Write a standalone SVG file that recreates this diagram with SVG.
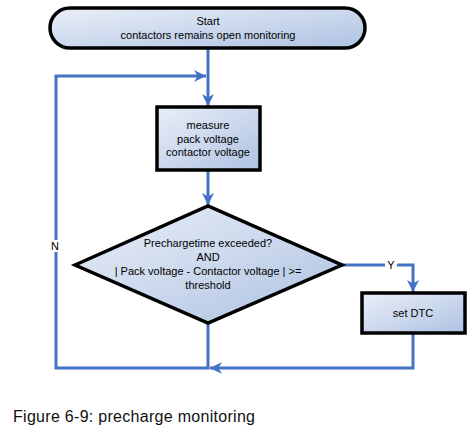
<svg xmlns="http://www.w3.org/2000/svg" width="476" height="432" viewBox="0 0 476 432">
<defs>
<linearGradient id="g" x1="0" y1="0" x2="1" y2="1">
<stop offset="0" stop-color="#eaeff8"/>
<stop offset="1" stop-color="#aec2e2"/>
</linearGradient>
<marker id="a" viewBox="0 0 10 10" refX="10" refY="5" markerWidth="4" markerHeight="4" markerUnits="strokeWidth" orient="auto">
<path d="M0,0 L10,5 L0,10 L3,5 Z" fill="#4472c4"/>
</marker>
<style>
.n{fill:url(#g);stroke:#000;stroke-width:3.5}
.t{font-family:"Liberation Sans",Arial,sans-serif;font-size:11px;fill:#000;text-anchor:middle}
.c{fill:none;stroke:#4472c4;stroke-width:3}
.lb{fill:#fff}
</style>
</defs>
<rect width="476" height="432" fill="#fff"/>
<g id="connectors">
<path class="c" d="M208,48 V106" marker-end="url(#a)"/>
<path class="c" d="M208,170 V205" marker-end="url(#a)"/>
<path class="c" d="M342,265 H413 V292" marker-end="url(#a)"/>
<path class="c" d="M413,333 V368 H210" marker-end="url(#a)"/>
<path class="c" d="M208,323 V368 H56 V76 H206" marker-end="url(#a)"/>
<rect class="lb" x="48" y="240" width="15" height="12"/>
<text class="t" x="55" y="250">N</text>
<rect class="lb" x="385" y="259" width="12" height="12"/>
<text class="t" x="391" y="269">Y</text>
</g>
<g id="start">
<rect class="n" x="50" y="8" width="315" height="40" rx="20"/>
<text class="t" x="208" y="25">Start</text>
<text class="t" x="208" y="39">contactors remains open monitoring</text>
</g>
<g id="measure">
<rect class="n" x="157" y="107" width="103" height="63"/>
<text class="t" x="208" y="129">measure</text>
<text class="t" x="208" y="143">pack voltage</text>
<text class="t" x="208" y="156">contactor voltage</text>
</g>
<g id="decision">
<polygon class="n" points="75,265 208,206 342,265 208,323"/>
<text class="t" x="208" y="247">Prechargetime exceeded?</text>
<text class="t" x="208" y="261">AND</text>
<text class="t" x="208" y="275">| Pack voltage - Contactor voltage | &gt;=</text>
<text class="t" x="208" y="289">threshold</text>
</g>
<g id="setdtc">
<rect class="n" x="362" y="293" width="103" height="40"/>
<text class="t" x="413" y="317">set DTC</text>
</g>
<text x="13" y="422" textLength="242" lengthAdjust="spacing" style="font-family:'Liberation Sans',Arial,sans-serif;font-size:16px;fill:#111">Figure 6-9: precharge monitoring</text>
</svg>
